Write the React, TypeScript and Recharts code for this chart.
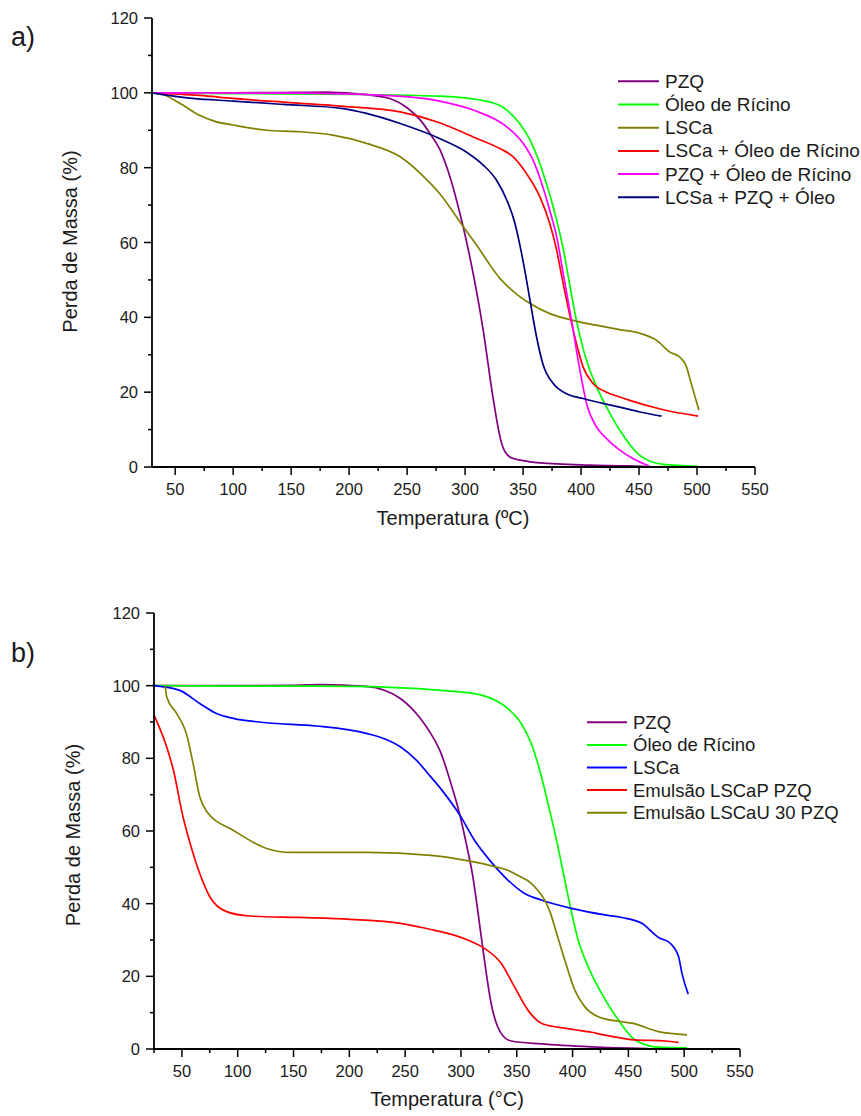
import { LineChart, Line, XAxis, YAxis } from 'recharts'

type Pt = [number, number]

// a) temperatura (ºC) x perda de massa (%)
const pzqA: Pt[] = [
  [30, 100], [100, 100], [150, 100.1], [180, 100.2], [215, 99.5], [235, 98.5], [250, 96],
  [262, 92.5], [270, 89], [278, 85], [287, 77.5], [295.5, 67.8], [301, 60.6], [308, 50], [315.6, 36.6],
  [324, 18.7], [331.5, 6.3], [338.6, 2.7], [350, 1.7], [364.5, 1.1], [407, 0.5], [440, 0.3], [458, 0.1],
]
const oleoA: Pt[] = [
  [30, 100], [100, 99.8], [200, 99.6], [278, 99.1], [321, 97.6], [336, 95.4], [347, 91.8],
  [356, 87.4], [364.5, 81.1], [370, 75.8], [376, 69.5], [381.7, 62.4], [386, 56.1], [389, 50.8],
  [396, 39.2], [404.7, 28.5], [413.4, 21.4], [422, 16], [433.4, 9.8], [450.7, 3.1], [470.8, 0.7], [500.7, 0.2],
]
const lscaA: Pt[] = [
  [30, 100], [40, 99.5], [54, 97.2], [71, 94], [85, 92.3], [100, 91.4], [129, 90], [157.6, 89.6],
  [186, 88.7], [215, 86.5], [244, 82.9], [262, 78.3], [278, 73.1], [298, 64.4], [312.8, 58], [321, 54.2],
  [330, 50.4], [336, 48.5], [346, 45.8], [356, 43.7], [373, 41], [393, 39.2], [413, 37.9], [433, 36.7],
  [450, 35.8], [465, 33.9], [476.6, 30.7], [485, 29.4], [491, 26.7], [495, 22.3], [501.6, 15.2],
]
const lscaOleoA: Pt[] = [
  [30, 100], [71, 99.3], [100, 98.5], [149, 97.4], [195, 96.4], [244, 94.9], [278, 92], [307, 88.2],
  [330, 85.1], [341.5, 82.9], [353, 78.4], [364.5, 72.2], [373, 65.1], [379, 57.9], [383, 51.5],
  [390, 41], [396, 33], [401.8, 26.7], [410.4, 22.3], [422, 20], [433.4, 18.7], [442, 17.8],
  [471, 15.3], [501, 13.6],
]
const pzqOleoA: Pt[] = [
  [30, 100], [150, 99.9], [230, 99.3], [278, 97.8], [307, 95.4], [336, 90.9], [350, 86.5],
  [358.6, 82], [367, 74.9], [373, 68.6], [379, 61.5], [385, 51], [391.8, 39.2], [399, 25.9],
  [404.7, 17], [413.4, 10.7], [422, 7.6], [433.4, 4.5], [445, 2.2], [459, 0.2],
]
const lcsaPzqOleoA: Pt[] = [
  [30, 100], [65, 98.5], [100, 97.8], [143, 96.9], [195, 95.8], [215, 94.5], [244, 91.8], [278, 87.8],
  [301, 84.2], [315.6, 80.7], [327, 76.7], [336, 71.3], [343, 65.1], [348.7, 57.1], [353, 49.9],
  [356, 44.5], [361.6, 34.8], [367, 27.6], [376, 22.3], [387.5, 19.6], [401.8, 18.3], [433.4, 16],
  [450.7, 14.7], [469.4, 13.6],
]

// b)
const pzqB: Pt[] = [
  [25, 100], [100, 100], [150, 100.1], [174, 100.3], [215, 99.8], [246, 96.4], [255, 94], [264, 90.8],
  [273, 86.8], [282, 81.5], [291, 73.1], [298.7, 64.8], [304.7, 56.6], [310.7, 47.4], [315, 38.2],
  [321, 24.5], [327, 12.6], [336, 4.3], [345, 2.2], [372, 1.4], [417, 0.6], [468, 0.1],
]
const oleoB: Pt[] = [
  [25, 100], [100, 99.9], [200, 99.8], [282, 98.7], [312, 97.8], [327, 96.5], [342, 93.7], [354, 89.6],
  [363, 84.1], [370.6, 76.7], [378, 67.6], [385.6, 57.5], [393, 46.5], [396, 42], [405, 30],
  [414, 22.6], [426, 15.3], [441, 8], [456, 2.5], [477, 0.5], [502.5, 0.3],
]
const lscaB: Pt[] = [
  [25, 100], [48, 98.7], [66, 95.1], [80, 92.5], [96, 91], [126, 89.8], [171, 88.9], [216, 86.8],
  [232, 85.3], [246, 83.1], [260, 79.5], [273, 74.9], [282, 71.6], [300, 63.9], [312, 57.5], [327, 51.5],
  [342, 46.5], [357, 42.8], [372, 41], [399, 38.7], [429, 36.9], [444, 36.2], [462, 34.6], [477, 30.7],
  [487.5, 29.1], [495, 25.4], [498, 20.8], [503.6, 15.1],
]
const emulsaoPB: Pt[] = [
  [25, 91.9], [36.4, 83.1], [42.4, 76.7], [51, 63.9], [57, 57], [66, 48.3], [75, 41.9], [90, 37.8],
  [111, 36.6], [156, 36.2], [201, 35.7], [246, 34.6], [273, 32.9], [282, 32.3], [306, 30], [321, 27.7],
  [336, 23.6], [348, 17.1], [360, 10.7], [372, 7.1], [387, 6], [402, 5.3], [417, 4.6], [429, 3.8],
  [444, 3], [456, 2.5], [483, 2.2], [495, 1.8],
]
const emulsaoUB: Pt[] = [
  [35, 100], [36.4, 96.9], [45.4, 92.3], [54, 86.8], [60, 78.6], [66, 69.4], [72.4, 65.3], [96, 60.2],
  [126, 55.2], [147, 54.1], [216, 54.1], [273, 53.3], [303, 52], [333, 50], [342, 49.2], [352, 47.6],
  [363, 45.6], [369, 43.6], [375, 41], [380, 37.6], [384, 33.6], [393, 24.5], [402, 16.2], [411, 11.6],
  [423, 8.9], [444, 7.5], [453, 7.1], [477, 4.8], [502.5, 3.9],
]

const xTicksA = [50, 75, 100, 125, 150, 175, 200, 225, 250, 275, 300, 325, 350, 375, 400, 425, 450, 475, 500, 525, 550]
const xTicksB = [25, ...xTicksA]
const yTicks = [0, 10, 20, 30, 40, 50, 60, 70, 80, 90, 100, 110, 120]

const seriesA = [
  { name: 'PZQ', color: '#800080', pts: pzqA },
  { name: 'Óleo de Rícino', color: '#00ff00', pts: oleoA },
  { name: 'LSCa', color: '#808000', pts: lscaA },
  { name: 'LSCa + Óleo de Rícino', color: '#ff0000', pts: lscaOleoA },
  { name: 'PZQ + Óleo de Rícino', color: '#ff00ff', pts: pzqOleoA },
  { name: 'LCSa + PZQ + Óleo', color: '#000080', pts: lcsaPzqOleoA },
]
const seriesB = [
  { name: 'PZQ', color: '#800080', pts: pzqB },
  { name: 'Óleo de Rícino', color: '#00ff00', pts: oleoB },
  { name: 'LSCa', color: '#0000ff', pts: lscaB },
  { name: 'Emulsão LSCaP PZQ', color: '#ff0000', pts: emulsaoPB },
  { name: 'Emulsão LSCaU 30 PZQ', color: '#808000', pts: emulsaoUB },
]

const FONT = 'Liberation Sans, Arial, sans-serif'
const TXT = '#1a1a1a'

function XTick(props: any) {
  const { x, y, payload } = props
  const v = payload.value
  const major = v % 50 === 0
  return (
    <g>
      <line x1={x} x2={x} y1={y} y2={y + (major ? 8 : 4)} stroke="#000" strokeWidth={1.5} />
      {major && (
        <text x={x} y={y + 28} textAnchor="middle" fontSize={16.5} fontFamily={FONT} fill={TXT}>
          {v}
        </text>
      )}
    </g>
  )
}

function YTick(props: any) {
  const { x, y, payload } = props
  const v = payload.value
  const major = v % 20 === 0
  return (
    <g>
      <line x1={x - (major ? 8 : 4)} x2={x} y1={y} y2={y} stroke="#000" strokeWidth={1.5} />
      {major && (
        <text x={x - 14} y={y + 6} textAnchor="end" fontSize={16.5} fontFamily={FONT} fill={TXT}>
          {v}
        </text>
      )}
    </g>
  )
}

function Panel({ series, margin, height, xMin, xTicks }: any) {
  return (
    <LineChart width={861} height={height} margin={margin}>
      <XAxis
        type="number"
        dataKey="t"
        domain={[xMin, 550]}
        ticks={xTicks}
        interval={0}
        tickSize={0}
        tickMargin={0}
        tickLine={false}
        tick={<XTick />}
        height={40}
        axisLine={{ stroke: '#000', strokeWidth: 1.8 }}
        allowDataOverflow
      />
      <YAxis
        type="number"
        domain={[0, 120]}
        ticks={yTicks}
        interval={0}
        tickSize={0}
        tickMargin={0}
        tickLine={false}
        tick={<YTick />}
        width={60}
        axisLine={{ stroke: '#000', strokeWidth: 1.8 }}
        allowDataOverflow
      />
      {series.map((s: any) => (
        <Line
          key={s.name}
          data={s.pts.map(([t, v]: Pt) => ({ t, v }))}
          dataKey="v"
          name={s.name}
          type="monotone"
          stroke={s.color}
          strokeWidth={1.7}
          dot={false}
          isAnimationActive={false}
        />
      ))}
    </LineChart>
  )
}

function LegendBox({ series, x, y, step, fontSize, len }: any) {
  return (
    <g>
      {series.map((s: any, i: number) => (
        <g key={s.name}>
          <line x1={x} x2={x + len} y1={y + i * step} y2={y + i * step} stroke={s.color} strokeWidth={2} />
          <text x={x + len + 6} y={y + i * step + 6.5} fontSize={fontSize} fontFamily={FONT} fill={TXT}>
            {s.name}
          </text>
        </g>
      ))}
    </g>
  )
}

export default function App() {
  return (
    <div style={{ position: 'absolute', left: 0, top: 0, width: 861, height: 1116, background: '#fff' }}>
      <div style={{ position: 'absolute', left: 0, top: 0 }}>
        <Panel series={seriesA} height={560} margin={{ top: 18, right: 106, bottom: 53, left: 92 }} xMin={30} xTicks={xTicksA} />
      </div>
      <div style={{ position: 'absolute', left: 0, top: 560 }}>
        <Panel series={seriesB} height={556} margin={{ top: 53, right: 121, bottom: 27, left: 94 }} xMin={25} xTicks={xTicksB} />
      </div>
      <svg width={861} height={1116} style={{ position: 'absolute', left: 0, top: 0, pointerEvents: 'none' }}>
        <text x={11} y={46} fontSize={27} fontFamily={FONT} fill={TXT}>a)</text>
        <text x={11} y={662} fontSize={27} fontFamily={FONT} fill={TXT}>b)</text>
        <text x={453} y={525} textAnchor="middle" fontSize={20} fontFamily={FONT} fill={TXT}>Temperatura (ºC)</text>
        <text x={447} y={1106} textAnchor="middle" fontSize={20} fontFamily={FONT} fill={TXT}>Temperatura (°C)</text>
        <text transform="translate(77,241.5) rotate(-90)" textAnchor="middle" fontSize={20} fontFamily={FONT} fill={TXT}>
          Perda de Massa (%)
        </text>
        <text transform="translate(80,835) rotate(-90)" textAnchor="middle" fontSize={20} fontFamily={FONT} fill={TXT}>
          Perda de Massa (%)
        </text>
        <LegendBox series={seriesA} x={618} y={81.3} step={23.2} fontSize={19} len={41} />
        <LegendBox series={seriesB} x={587} y={722.3} step={22.6} fontSize={18.5} len={40} />
      </svg>
    </div>
  )
}
